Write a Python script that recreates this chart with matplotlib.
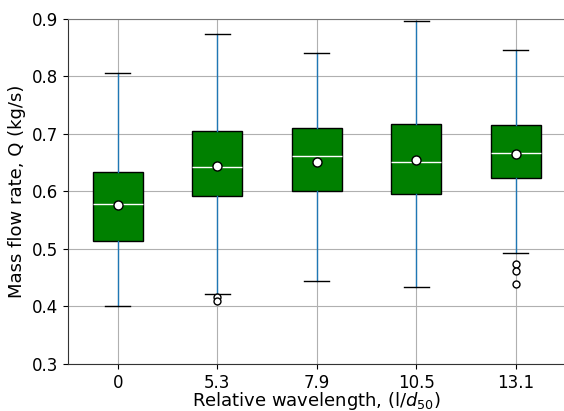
import matplotlib
matplotlib.use("Agg")
import matplotlib.pyplot as plt

# relative wavelength groups
labels = ["0", "5.3", "7.9", "10.5", "13.1"]

# box statistics for mass flow rate (kg/s)
whislo = [0.401, 0.421, 0.445, 0.434, 0.4925]
q1 = [0.514, 0.592, 0.600, 0.596, 0.623]
med = [0.578, 0.643, 0.662, 0.651, 0.667]
q3 = [0.634, 0.706, 0.710, 0.717, 0.716]
whishi = [0.806, 0.874, 0.840, 0.897, 0.846]
means = [0.577, 0.645, 0.652, 0.654, 0.665]
fliers = [[], [0.416, 0.409], [], [], [0.474, 0.462, 0.439]]

stats = []
for i in range(len(labels)):
	stats.append(dict(label=labels[i], whislo=whislo[i], q1=q1[i], med=med[i],
		q3=q3[i], whishi=whishi[i], mean=means[i], fliers=fliers[i]))

fig = plt.figure(figsize=(5.64, 4.11), dpi=100)
ax = fig.add_axes([0.1206, 0.1144, 0.882, 0.8394])

ax.grid(True, color="#b0b0b0", linewidth=0.8)
ax.set_axisbelow(True)

ax.bxp(stats, widths=0.5, showmeans=True, patch_artist=True,
	boxprops=dict(facecolor="green", edgecolor="black", linewidth=1),
	medianprops=dict(color="white", linewidth=1),
	whiskerprops=dict(color="#1f77b4", linewidth=1),
	capprops=dict(color="black", linewidth=1),
	flierprops=dict(marker="o", markerfacecolor="white", markeredgecolor="black", markersize=5),
	meanprops=dict(marker="o", markerfacecolor="white", markeredgecolor="black", markersize=6.5, markeredgewidth=1))

ax.set_xlim(0.5, 5.5)
ax.set_ylim(0.3, 0.9)
ax.set_yticks([0.3, 0.4, 0.5, 0.6, 0.7, 0.8, 0.9])
ax.tick_params(labelsize=12)
ax.set_xlabel("Relative wavelength, (l/$d_{50}$)", fontsize=13, labelpad=-1)
ax.set_ylabel("Mass flow rate, Q (kg/s)", fontsize=13)

ax.spines["right"].set_visible(False)
ax.spines["top"].set_color("#777777")
for s in ["left", "bottom"]:
	ax.spines[s].set_color("#333333")

fig.savefig("out.png", dpi=100)
